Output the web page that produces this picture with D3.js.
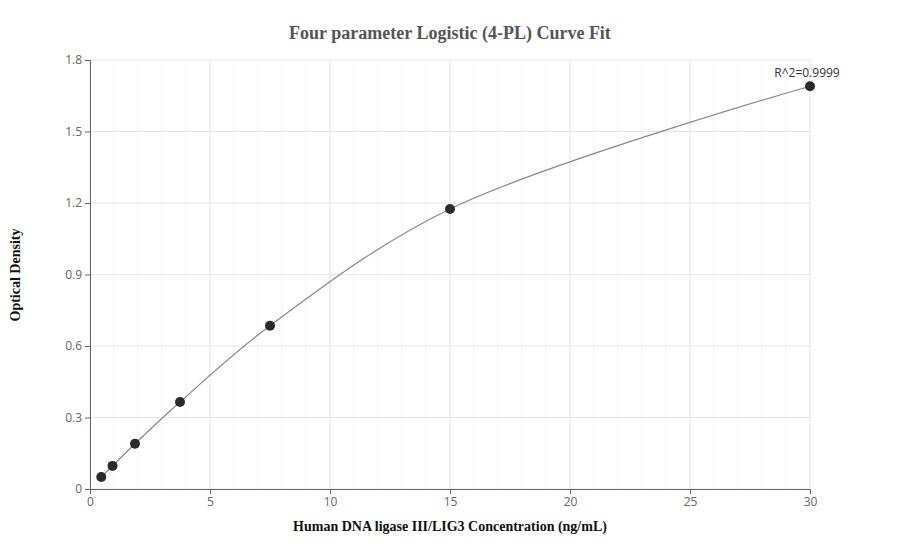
<!DOCTYPE html><html><head><script src="https://cdn.jsdelivr.net/npm/d3@7"></script>
<style>body{margin:0;background:#fff}</style></head><body><svg id="c" width="900" height="560"></svg>
<script>
const conc=[0.469,0.938,1.875,3.75,7.5,15,30];
const od=[0.05,0.097,0.19,0.365,0.685,1.175,1.69];
const xTicks=[0,5,10,15,20,25,30];
const yTicks=[0,0.3,0.6,0.9,1.2,1.5,1.8];
const svg=d3.select("#c");
const x=d3.scaleLinear().domain([0,30]).range([90,810]);
const y=d3.scaleLinear().domain([0,1.8]).range([489,60]);
const g=svg.append("g");
g.selectAll(".mx").data(d3.range(0,31)).join("line").attr("x1",d=>x(d)).attr("x2",d=>x(d)).attr("y1",60).attr("y2",489).attr("stroke",d=>d%5?"#f3f3f3":"#e3e3e3");
g.selectAll(".my").data(yTicks).join("line").attr("x1",90).attr("x2",810).attr("y1",d=>y(d)).attr("y2",d=>y(d)).attr("stroke","#e6e6e6");
const xa=svg.append("g").attr("transform","translate(0,489)").call(d3.axisBottom(x).tickValues(xTicks).tickSize(5).tickFormat(d3.format("d")));
const ya=svg.append("g").attr("transform","translate(90,0)").call(d3.axisLeft(y).tickValues(yTicks).tickSize(5).tickFormat(d=>d===0?"0":d3.format(".1f")(d)));
[xa,ya].forEach(a=>{a.select(".domain").attr("stroke","#666");a.selectAll("line").attr("stroke","#666");a.selectAll("text").attr("fill","#666").attr("font-family","Open Sans").attr("font-size",12);});
const pts=conc.map((c,i)=>[c,od[i]]);
svg.append("path").datum(pts).attr("d",d3.line().x(d=>x(d[0])).y(d=>y(d[1])).curve(d3.curveCatmullRom.alpha(0.5))).attr("fill","none").attr("stroke","#888").attr("stroke-width",1.2);
svg.selectAll("circle").data(pts).join("circle").attr("cx",d=>x(d[0])).attr("cy",d=>y(d[1])).attr("r",5).attr("fill","#2b2b2b");
svg.append("text").attr("x",x(30)-3).attr("y",y(1.69)-9).attr("text-anchor","middle").attr("font-family","Open Sans").attr("font-size",12).attr("fill","#333").text("R^2=0.9999");
svg.append("text").attr("x",450).attr("y",39).attr("text-anchor","middle").attr("font-family","Liberation Serif").attr("font-weight","bold").attr("font-size",18).attr("fill","#555").text("Four parameter Logistic (4-PL) Curve Fit");
svg.append("text").attr("x",450).attr("y",531).attr("text-anchor","middle").attr("font-family","Liberation Serif").attr("font-weight","bold").attr("font-size",14).attr("fill","#111").text("Human DNA ligase III/LIG3 Concentration (ng/mL)");
svg.append("text").attr("transform","translate(20,275) rotate(-90)").attr("text-anchor","middle").attr("font-family","Liberation Serif").attr("font-weight","bold").attr("font-size",14).attr("fill","#111").text("Optical Density");
</script></body></html>
